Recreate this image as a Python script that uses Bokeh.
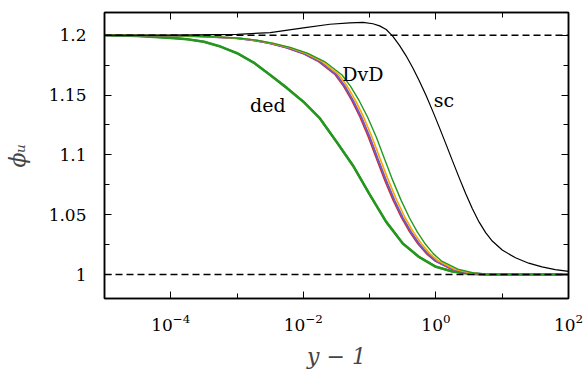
import numpy as np
from bokeh.plotting import figure
from bokeh.models import FixedTicker, LogAxis, LinearAxis, Span, Label
from bokeh.embed import file_html
from bokeh.resources import INLINE

# ---- data: log10(y-1) positions and phi_u values ----
sc_log10x = [-5.0, -4.0, -3.0, -2.5, -2.0, -1.6, -1.3, -1.1, -0.95, -0.85, -0.75, -0.65,
             -0.55, -0.45, -0.35, -0.25, -0.15, -0.05, 0.05, 0.15, 0.25, 0.35, 0.45, 0.55,
             0.65, 0.75, 0.85, 1.0, 1.2, 1.4, 1.6, 1.8, 2.0]
sc_phi = [1.2000, 1.2001, 1.2008, 1.2022, 1.2062, 1.2092, 1.2104, 1.2108, 1.2096, 1.2078,
          1.2048, 1.1990, 1.1915, 1.1828, 1.1728, 1.1618, 1.1498, 1.1368, 1.1232, 1.1092,
          1.0950, 1.0810, 1.0675, 1.0550, 1.0440, 1.0350, 1.0280, 1.0205, 1.0140, 1.0095,
          1.0064, 1.0042, 1.0027]

dvd_phi = [1.2000, 1.1998, 1.1990, 1.1975, 1.1958, 1.1932, 1.1898, 1.1850, 1.1780, 1.1670,
           1.1575, 1.1455, 1.1315, 1.1150, 1.0965, 1.0785, 1.0620, 1.0475, 1.0355, 1.0255,
           1.0175, 1.0115, 1.0045, 1.0013, 1.0003, 1.0000, 1.0000]
dvd_blue_log10x = [-5.0, -4.0, -3.5, -3.0, -2.75, -2.5, -2.25, -2.0, -1.75, -1.5, -1.375,
                   -1.25, -1.125, -1.0, -0.875, -0.75, -0.625, -0.5, -0.375, -0.25, -0.125,
                   0.0, 0.25, 0.5, 0.75, 1.0, 2.0]
dvd_red_log10x = [-5.0, -4.0, -3.52, -3.02, -2.77, -2.52, -2.27, -2.02, -1.77, -1.52, -1.395,
                  -1.27, -1.145, -1.02, -0.895, -0.77, -0.645, -0.52, -0.395, -0.27, -0.145,
                  -0.02, 0.23, 0.48, 0.74, 1.0, 2.0]
dvd_orange_log10x = [-5.0, -4.0, -3.47, -2.965, -2.715, -2.465, -2.215, -1.965, -1.715, -1.465,
                     -1.34, -1.215, -1.09, -0.965, -0.84, -0.715, -0.59, -0.465, -0.34, -0.215,
                     -0.09, 0.035, 0.28, 0.525, 0.77, 1.0, 2.0]
dvd_green_log10x = [-5.0, -4.0, -3.45, -2.95, -2.70, -2.45, -2.20, -1.94, -1.68, -1.42, -1.29,
                    -1.16, -1.03, -0.90, -0.775, -0.65, -0.525, -0.40, -0.28, -0.16, -0.04,
                    0.08, 0.33, 0.57, 0.80, 1.02, 2.0]

ded_log10x = [-5.0, -4.5, -4.0, -3.75, -3.5, -3.25, -3.0, -2.75, -2.5, -2.25, -2.0, -1.75,
              -1.5, -1.25, -1.0, -0.75, -0.5, -0.25, 0.0, 0.25, 0.5, 0.75, 1.0, 2.0]
ded_phi = [1.2000, 1.1993, 1.1978, 1.1966, 1.1945, 1.1905, 1.1850, 1.1772, 1.1668, 1.1560,
           1.1445, 1.1305, 1.1110, 1.0910, 1.0670, 1.0440, 1.0260, 1.0145, 1.0065, 1.0025,
           1.0007, 1.0001, 1.0000, 1.0000]

ref_levels = [1.0, 1.2]

x_major = [1e-4, 1e-2, 1e0, 1e2]
x_minor = [1e-5, 1e-3, 1e-1, 1e1]
y_major = [1.0, 1.05, 1.1, 1.15, 1.2]
y_minor = [1.025, 1.075, 1.125, 1.175]
y_tick_labels = ["1", "1.05", "1.1", "1.15", "1.2"]

curve_labels = ["ded", "DvD", "sc"]
curve_label_log10x = [-2.536, -1.102, 0.121]
curve_label_phi = [1.1417, 1.1678, 1.1456]

FONT = "DejaVu Serif"

p = figure(width=584, height=374, x_axis_type="log",
           x_range=(1e-5, 1e2), y_range=(0.98, 1.219),
           output_backend="svg", toolbar_location=None,
           min_border_left=104, min_border_right=16, min_border_top=12, min_border_bottom=76)
p.grid.visible = False
p.outline_line_color = "black"
p.outline_line_width = 1.5
p.background_fill_color = "white"
p.border_fill_color = "white"

def X(a):
    return 10 ** np.array(a)

# curves
p.line(X(ded_log10x), ded_phi, line_color="#c0392b", line_width=2.0)
p.line(X(ded_log10x), ded_phi, line_color="#1f9a1f", line_width=2.6)

p.line(X(dvd_red_log10x), dvd_phi, line_color="#d62728", line_width=1.5)
p.line(X(dvd_blue_log10x), dvd_phi, line_color="#6a5acd", line_width=2.0)
p.line(X(dvd_orange_log10x), dvd_phi, line_color="#ffa500", line_width=1.6)
p.line(X(dvd_green_log10x), dvd_phi, line_color="#1f9a1f", line_width=1.4)

p.line(X(sc_log10x), sc_phi, line_color="black", line_width=1.2)

for lv in ref_levels:
    p.add_layout(Span(location=lv, dimension="width", line_color="black",
                      line_width=1.5, line_dash="7 4"))

for t, lx, ly in zip(curve_labels, curve_label_log10x, curve_label_phi):
    p.add_layout(Label(x=10 ** lx, y=ly, text=t, text_align="center",
                       text_baseline="alphabetic", text_font=FONT,
                       text_font_size="19px", text_color="black"))

def style_axis(ax, labels=True):
    ax.axis_line_color = "black"
    ax.axis_line_width = 1.5
    ax.major_tick_line_color = "black"
    ax.minor_tick_line_color = "black"
    ax.major_tick_in = 7
    ax.major_tick_out = 0
    ax.minor_tick_in = 5
    ax.minor_tick_out = 0
    ax.major_label_text_font = FONT
    ax.major_label_text_font_size = "17px"
    ax.major_label_text_color = "black"
    if not labels:
        ax.major_label_text_font_size = "0px"
        ax.major_label_text_alpha = 0
        ax.major_label_standoff = 0

xticker = FixedTicker(ticks=x_major, minor_ticks=x_minor)
yticker = FixedTicker(ticks=y_major, minor_ticks=y_minor)

xa = p.xaxis[0]
xa.ticker = xticker
style_axis(xa)
xa.major_label_standoff = 15
xa.axis_label = "y − 1"
xa.axis_label_text_font = FONT
xa.axis_label_text_font_style = "italic"
xa.axis_label_text_font_size = "22px"
xa.axis_label_standoff = 10

ya = p.yaxis[0]
ya.ticker = yticker
style_axis(ya)
ya.major_label_overrides = {v: s for v, s in zip(y_major, y_tick_labels)}
ya.major_label_standoff = 18
ya.axis_label = "ϕᵤ"
ya.axis_label_text_font = FONT
ya.axis_label_text_font_style = "italic"
ya.axis_label_text_font_size = "22px"
ya.axis_label_standoff = 16

top = LogAxis(ticker=xticker)
style_axis(top, labels=False)
p.add_layout(top, "above")
right = LinearAxis(ticker=yticker)
style_axis(right, labels=False)
p.add_layout(right, "right")

open("out.html", "w").write(file_html(p, INLINE))
